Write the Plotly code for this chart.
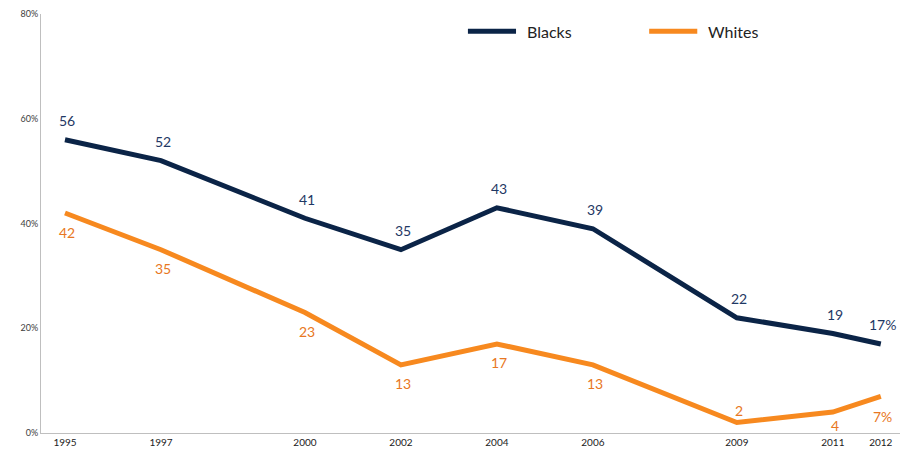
import plotly.graph_objects as go

# Survey years and shares (percent) for each group
years = [1995, 1997, 2000, 2002, 2004, 2006, 2009, 2011, 2012]
blacks = [56, 52, 41, 35, 43, 39, 22, 19, 17]
whites = [42, 35, 23, 13, 17, 13, 2, 4, 7]

y_ticks = [0, 20, 40, 60, 80]
y_tick_text = [f"{v}%" for v in y_ticks]

navy = "#0B2447"
orange = "#F7891F"
navy_text = "#1F3864"
orange_text = "#E87722"
font = "Lato"

# vertical label offsets in pixels (positive = above the point)
blacks_offset = [19] * len(years)
whites_offset = [-19, -19, -19, -19, -19, -19, 12, -13, -20]

fig = go.Figure()
fig.add_trace(go.Scatter(x=years, y=blacks, mode="lines", name="Blacks",
                         line=dict(color=navy, width=5), showlegend=False))
fig.add_trace(go.Scatter(x=years, y=whites, mode="lines", name="Whites",
                         line=dict(color=orange, width=5), showlegend=False))

annotations = []
for series, offsets, color in [(blacks, blacks_offset, navy_text), (whites, whites_offset, orange_text)]:
    for i, (x, v, dy) in enumerate(zip(years, series, offsets)):
        txt = f"{v}%" if i == len(years) - 1 else f"{v}"
        annotations.append(dict(x=x, y=v, text=txt, showarrow=False,
                                yshift=dy, xshift=2,
                                font=dict(family=font, size=14, color=color)))

# custom legend: line sample plus label
legend_y = 0.959
for x0, label, color in [(0.497, "Blacks", navy), (0.708, "Whites", orange)]:
    fig.add_shape(type="line", xref="paper", yref="paper",
                  x0=x0, x1=x0 + 0.056, y0=legend_y, y1=legend_y,
                  line=dict(color=color, width=5))
    annotations.append(dict(xref="paper", yref="paper", x=x0 + 0.066, y=legend_y,
                            text=label, showarrow=False, xanchor="left", yanchor="middle",
                            font=dict(family=font, size=16, color="#222222")))

fig.update_layout(
    width=901, height=453,
    margin=dict(l=41, r=1, t=14, b=20),
    plot_bgcolor="white", paper_bgcolor="white",
    annotations=annotations,
    xaxis=dict(range=[1994.5, 2012.4], tickvals=years, ticktext=[str(y) for y in years],
               showgrid=False, zeroline=False, showline=True, linecolor="#BFBFBF",
               linewidth=1, ticks="", tickfont=dict(family=font, size=10, color="#222222")),
    yaxis=dict(range=[0, 80], tickvals=y_ticks, ticktext=y_tick_text,
               showgrid=False, zeroline=False, showline=True, linecolor="#BFBFBF",
               linewidth=1, ticks="", tickfont=dict(family=font, size=9, color="#404040")),
    showlegend=False,
)

fig.write_html("out.html")
